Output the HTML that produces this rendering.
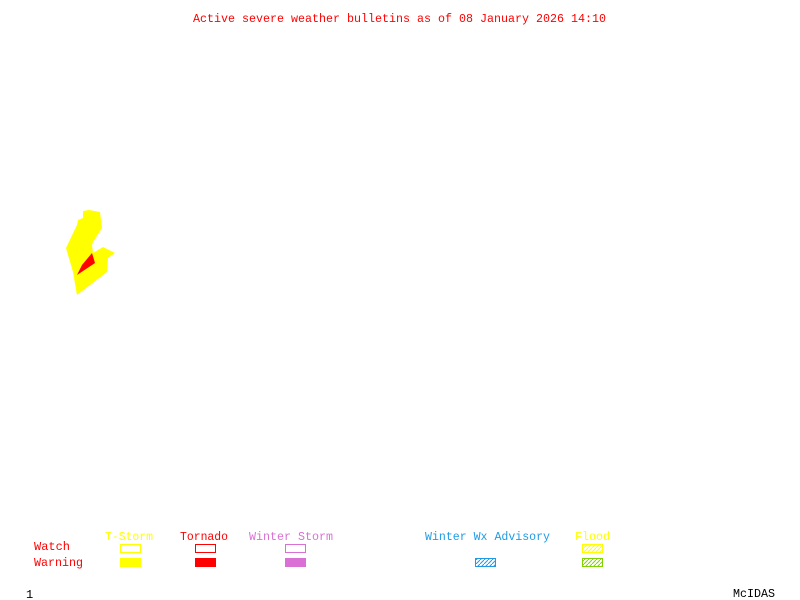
<!DOCTYPE html>
<html><head><style>html,body{margin:0;padding:0;background:#fff}svg{display:block}</style></head><body>
<svg width="800" height="600" xmlns="http://www.w3.org/2000/svg" font-family="Liberation Mono, monospace" font-size="12">
<defs>
<pattern id="hb" width="4" height="4" patternUnits="userSpaceOnUse"><path d="M0,4 L4,0" stroke="#1e9be6" stroke-width="1"/></pattern>
<pattern id="hy" width="4" height="4" patternUnits="userSpaceOnUse"><path d="M0,4 L4,0" stroke="#ffff00" stroke-width="1"/></pattern>
<pattern id="hg" width="4" height="4" patternUnits="userSpaceOnUse"><path d="M0,4 L4,0" stroke="#7fd400" stroke-width="1"/></pattern>
</defs>
<text x="193" y="22" fill="#ff0000" textLength="413" lengthAdjust="spacingAndGlyphs">Active severe weather bulletins as of 08 January 2026 14:10</text>
<polygon fill="#ffff00" points="83,211 89,210 100,212 102,228 93,242 92,245 93,253 103,247 115,253 108,258 107,272 77,295 73,272 66,248 77,225 78,220 83,218"/>
<polygon fill="#ff0000" points="92,253 95,263 77,275 82,265"/>
<text x="105" y="540" fill="#ffff00" textLength="48" lengthAdjust="spacingAndGlyphs">T-Storm</text>
<text x="180" y="540" fill="#ff0000" textLength="48" lengthAdjust="spacingAndGlyphs">Tornado</text>
<text x="249" y="540" fill="#da70d6" textLength="84" lengthAdjust="spacingAndGlyphs">Winter Storm</text>
<text x="425" y="540" fill="#1e9be6" textLength="125" lengthAdjust="spacingAndGlyphs">Winter Wx Advisory</text>
<text x="575" y="540" fill="#ffff00" textLength="35" lengthAdjust="spacingAndGlyphs">Flood</text>
<text x="34" y="550" fill="#ff0000" textLength="36" lengthAdjust="spacingAndGlyphs">Watch</text>
<text x="34" y="566" fill="#ff0000" textLength="49" lengthAdjust="spacingAndGlyphs">Warning</text>
<rect x="120.5" y="544.5" width="20" height="8" fill="none" stroke="#ffff00"/>
<rect x="120" y="558" width="21" height="9" fill="#ffff00"/>
<rect x="195.5" y="544.5" width="20" height="8" fill="none" stroke="#ff0000"/>
<rect x="195" y="558" width="21" height="9" fill="#ff0000"/>
<rect x="285.5" y="544.5" width="20" height="8" fill="none" stroke="#da70d6"/>
<rect x="285" y="558" width="21" height="9" fill="#da70d6"/>
<rect x="475.5" y="558.5" width="20" height="8" fill="url(#hb)" stroke="#1e9be6"/>
<rect x="582.5" y="544.5" width="20" height="8" fill="url(#hy)" stroke="#ffff00"/>
<rect x="582.5" y="558.5" width="20" height="8" fill="url(#hg)" stroke="#7fd400"/>
<text x="26" y="598" fill="#000">1</text>
<text x="733" y="597" fill="#000" textLength="42" lengthAdjust="spacingAndGlyphs">McIDAS</text>
</svg>
</body></html>
